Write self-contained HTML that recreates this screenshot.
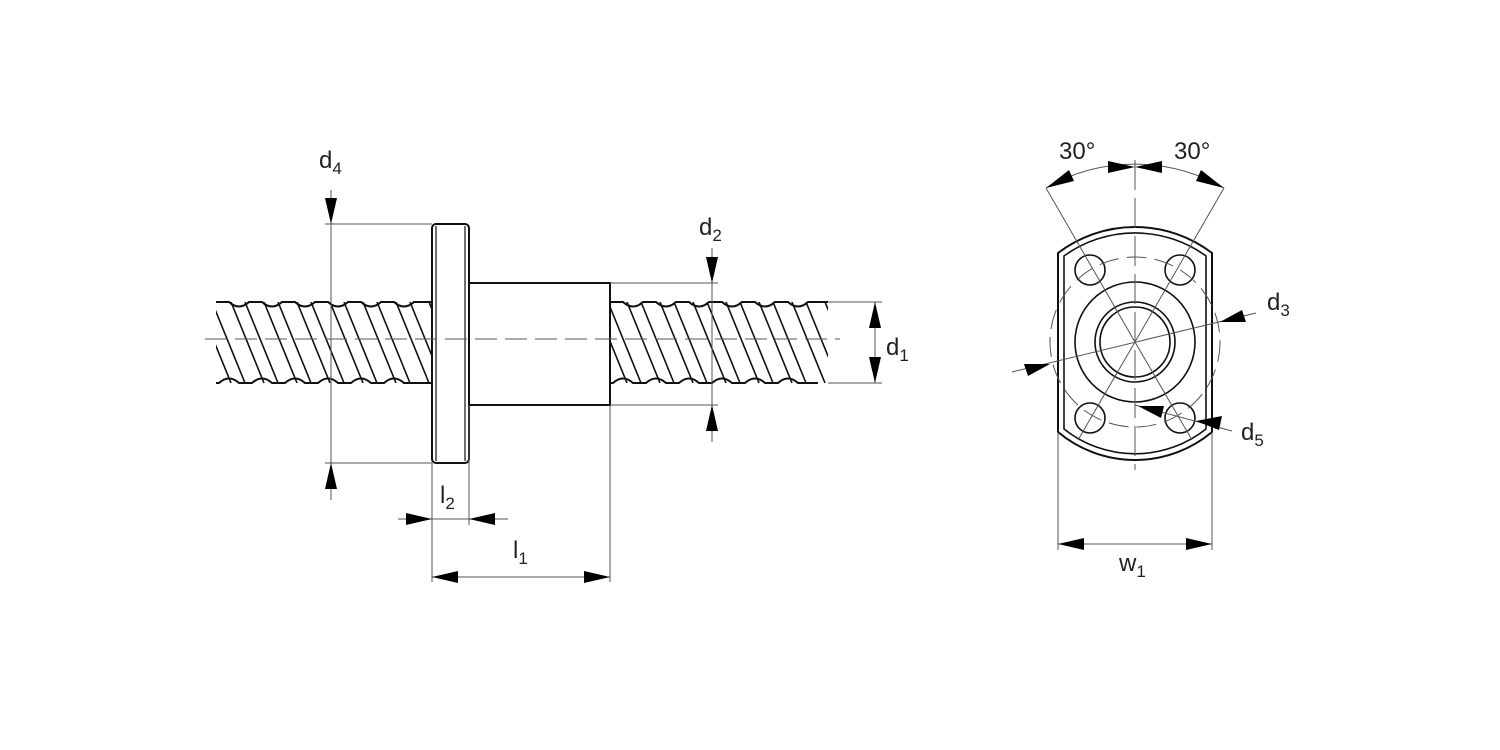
<!DOCTYPE html>
<html><head><meta charset="utf-8"><style>
html,body{margin:0;padding:0;background:#fff}
svg{display:block}
text{font-family:"Liberation Sans",sans-serif;fill:#222}
</style></head><body>
<svg width="1500" height="750" viewBox="0 0 1500 750" xmlns="http://www.w3.org/2000/svg">
<defs>
<pattern id="hatch" patternUnits="userSpaceOnUse" x="0" y="302" width="33" height="81">
<g stroke="#111" stroke-width="1.6">
<line x1="0" y1="0" x2="33" y2="81"/>
<line x1="-33" y1="0" x2="0" y2="81"/>
<line x1="33" y1="0" x2="66" y2="81"/>
<line x1="14" y1="0" x2="47" y2="81"/>
<line x1="-19" y1="0" x2="14" y2="81"/>
</g>
</pattern>
</defs>
<g fill="none" stroke="#111" stroke-width="2">
<rect x="216" y="302" width="216" height="81" fill="url(#hatch)" stroke="none"/>
<rect x="610" y="302" width="218" height="81" fill="url(#hatch)" stroke="none"/>
<path d="M216,302 h13 q10,9 20,0 h13 q10,9 20,0 h13 q10,9 20,0 h13 q10,9 20,0 h13 q10,9 20,0 h13 q10,9 20,0 h18"/>
<path d="M216,383 h3 q10,-9 20,0 h13 q10,-9 20,0 h13 q10,-9 20,0 h13 q10,-9 20,0 h13 q10,-9 20,0 h13 q10,-9 20,0 h28"/>
<path d="M610,302 h13 q10,9 20,0 h13 q10,9 20,0 h13 q10,9 20,0 h13 q10,9 20,0 h13 q10,9 20,0 h13 q10,9 20,0 h20"/>
<path d="M610,383 h3 q10,-9 20,0 h13 q10,-9 20,0 h13 q10,-9 20,0 h13 q10,-9 20,0 h13 q10,-9 20,0 h13 q10,-9 20,0 h20"/>
<rect x="432" y="224" width="37" height="239" rx="4" fill="#fff"/>
<line x1="436" y1="226" x2="436" y2="461" stroke-width="1.2"/>
<line x1="465" y1="226" x2="465" y2="461" stroke-width="1.2"/>
<rect x="469" y="283" width="141" height="122" fill="#fff"/>
</g>
<line x1="205" y1="339" x2="840" y2="339" stroke="#555" stroke-width="1" stroke-dasharray="22,8"/>
<g stroke="#555" stroke-width="1" fill="none">
<line x1="325" y1="224" x2="432" y2="224"/><line x1="325" y1="463" x2="432" y2="463"/>
<line x1="331" y1="190" x2="331" y2="500"/>
<line x1="610" y1="283" x2="718" y2="283"/><line x1="610" y1="405" x2="718" y2="405"/>
<line x1="712" y1="248" x2="712" y2="442"/>
<line x1="828" y1="302" x2="882" y2="302"/><line x1="828" y1="383" x2="882" y2="383"/>
<line x1="875" y1="302" x2="875" y2="383"/>
<line x1="432" y1="463" x2="432" y2="582"/><line x1="469" y1="405" x2="469" y2="525"/>
<line x1="610" y1="405" x2="610" y2="582"/>
<line x1="398" y1="519" x2="508" y2="519"/>
<line x1="432" y1="577" x2="610" y2="577"/>
</g>
<g fill="#000">
<polygon points="331,224 325,198 337,198"/><polygon points="331,463 325,489 337,489"/>
<polygon points="712,283 706,257 718,257"/><polygon points="712,405 706,431 718,431"/>
<polygon points="875,302 869,328 881,328"/><polygon points="875,383 869,357 881,357"/>
<polygon points="432,519 406,513 406,525"/><polygon points="469,519 495,513 495,525"/>
<polygon points="432,577 458,571 458,583"/><polygon points="610,577 584,571 584,583"/>
</g>
<text x="319" y="168" font-size="24">d<tspan font-size="17" dy="6">4</tspan></text>
<text x="699" y="235" font-size="24">d<tspan font-size="17" dy="6">2</tspan></text>
<text x="886" y="355" font-size="24">d<tspan font-size="17" dy="6">1</tspan></text>
<text x="440" y="503" font-size="24">l<tspan font-size="17" dy="6">2</tspan></text>
<text x="513" y="558" font-size="24">l<tspan font-size="17" dy="6">1</tspan></text>

<g fill="none" stroke="#111" stroke-width="2">
<path d="M1058,253 A127,127 0 0 1 1212,253 L1212,432 A120,120 0 0 1 1058,432 Z"/>
<path d="M1064,256 A121,121 0 0 1 1206,256 L1206,429 A114,114 0 0 1 1064,429 Z" stroke-width="1.6"/>
<circle cx="1135" cy="342" r="60" stroke-width="1.6"/>
<circle cx="1135" cy="342" r="40" stroke-width="1.6"/>
<circle cx="1135" cy="342" r="35" stroke-width="1.6"/>
<circle cx="1090" cy="270" r="15" stroke-width="1.6"/>
<circle cx="1180" cy="270" r="15" stroke-width="1.6"/>
<circle cx="1090" cy="418" r="15" stroke-width="1.6"/>
<circle cx="1180" cy="418" r="15" stroke-width="1.6"/>
</g>
<g stroke="#555" stroke-width="1" fill="none">
<circle cx="1135" cy="342" r="85" stroke-dasharray="20,8"/>
<line x1="1135" y1="160" x2="1135" y2="470" stroke-dasharray="30,8"/>
<line x1="1135" y1="342" x2="1046" y2="188"/>
<line x1="1135" y1="342" x2="1224" y2="188"/>
<line x1="1135" y1="342" x2="1078" y2="440"/>
<line x1="1135" y1="342" x2="1192" y2="440"/>
<path d="M1046,188 A178,178 0 0 1 1224,188"/>
<line x1="1012" y1="372" x2="1256" y2="313"/>
<line x1="1135" y1="405" x2="1232" y2="431"/>
<line x1="1058" y1="432" x2="1058" y2="550"/><line x1="1212" y1="432" x2="1212" y2="550"/>
<line x1="1058" y1="544" x2="1212" y2="544"/>
</g>
<g fill="#000">
<polygon points="1135,167 1108,161 1108,173"/><polygon points="1135,167 1162,161 1162,173"/>
<polygon points="1046,188 1069,170 1074,181"/><polygon points="1224,188 1201,170 1196,181"/>
<polygon points="1050,364 1024,364 1028,376"/><polygon points="1220,322 1246,322 1242,310"/>
<polygon points="1138,406 1164,406 1161,418"/><polygon points="1196,421 1222,416 1219,430"/>
<polygon points="1058,544 1084,538 1084,550"/><polygon points="1212,544 1186,538 1186,550"/>
</g>
<text x="1059" y="159" font-size="24">30°</text>
<text x="1174" y="159" font-size="24">30°</text>
<text x="1267" y="310" font-size="24">d<tspan font-size="17" dy="6">3</tspan></text>
<text x="1241" y="440" font-size="24">d<tspan font-size="17" dy="6">5</tspan></text>
<text x="1119" y="571" font-size="24">w<tspan font-size="17" dy="6">1</tspan></text>
</svg>
</body></html>
